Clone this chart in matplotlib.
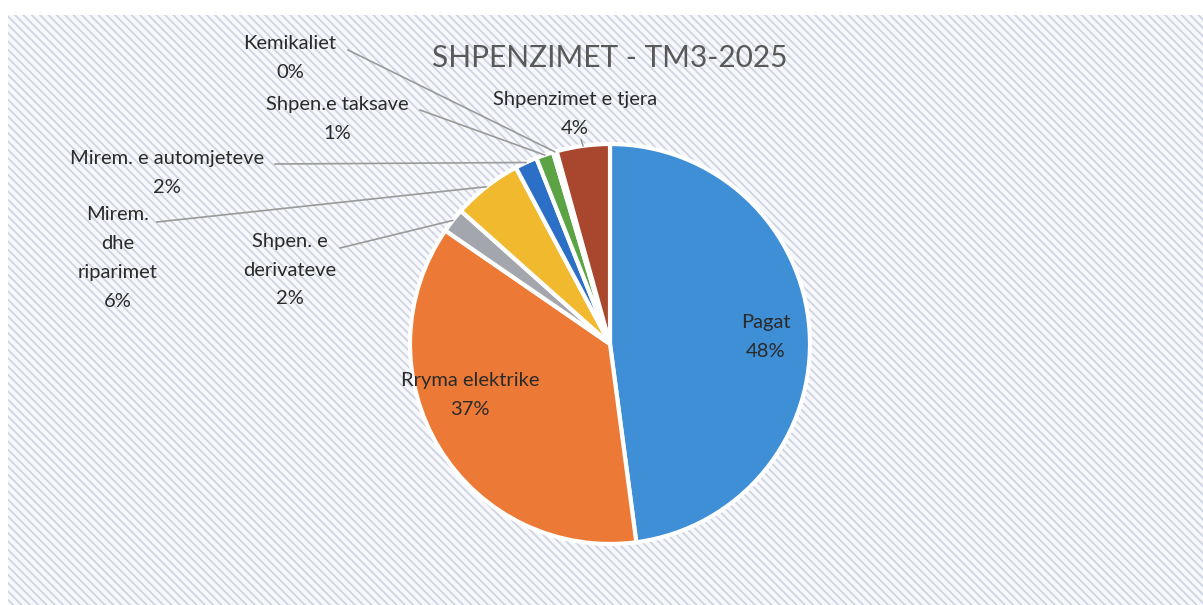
import numpy as np
import matplotlib
matplotlib.use("Agg")
import matplotlib.pyplot as plt
from matplotlib.patches import Rectangle

title = "SHPENZIMET - TM3-2025"
categories = ["Pagat", "Rryma elektrike", "Shpen. e derivateve", "Mirem. dhe riparimet",
              "Mirem. e automjeteve", "Shpen.e taksave", "Kemikaliet", "Shpenzimet e tjera"]
values = [47.9, 36.7, 2.0, 5.6, 1.8, 1.4, 0.3, 4.3]
pct_labels = ["48%", "37%", "2%", "6%", "2%", "1%", "0%", "4%"]
label_text = ["Pagat", "Rryma elektrike", "Shpen. e\nderivateve", "Mirem.\ndhe\nriparimet",
              "Mirem. e automjeteve", "Shpen.e taksave", "Kemikaliet", "Shpenzimet e tjera"]
colors = ["#3f8fd6", "#ec7a36", "#a3a6ad", "#f1b92e", "#2b70c6", "#5ba345", "#f4f4f4", "#a9472e"]

W, H = 1203, 605
fig = plt.figure(figsize=(W / 100, H / 100), dpi=100)
ax = fig.add_axes([0, 0, 1, 1])
ax.set_xlim(0, W)
ax.set_ylim(0, H)
ax.set_aspect("equal")
ax.axis("off")

plt.rcParams["hatch.linewidth"] = 1.3
bg = Rectangle((8, 0), W - 8, H - 15, facecolor="#f7f8fc", edgecolor="#d0d4e2",
               linewidth=0, hatch="\\\\\\\\", zorder=0)
ax.add_patch(bg)

cx, cy, R = 610, H - 344, 200
wedges, _ = ax.pie(values, colors=colors, startangle=90, counterclock=False,
                   center=(cx, cy), radius=R, frame=True,
                   wedgeprops=dict(edgecolor="white", linewidth=3))
ax.set_xlim(0, W)
ax.set_ylim(0, H)
ax.axis("off")

font = "Lato"
txtc = "#2a2a2a"
fs = 14.5
ls = 1.85
ax.text(610, H - 58, title, ha="center", va="center", fontsize=21.5, color="#595959", family=font)

# inside labels
ax.text(766, H - 337, "Pagat\n48%", ha="center", va="center", fontsize=fs,
        color=txtc, family=font, linespacing=ls)
ax.text(470, H - 395, "Rryma elektrike\n37%", ha="center", va="center", fontsize=fs,
        color=txtc, family=font, linespacing=ls)

# outside labels: (index, text center, line start)
outside = [
    (6, (290, 58), (348, 50)),
    (5, (337, 119), (420, 110)),
    (4, (167, 173), (275, 164)),
    (3, (118, 258), (157, 222)),
    (2, (290, 270), (340, 248)),
    (7, (575, 114), None),
]
cum = np.cumsum([0] + values)
total = sum(values)
for idx, (tx, ty), start in outside:
    lab = label_text[idx] + "\n" + pct_labels[idx]
    ax.text(tx, H - ty, lab, ha="center", va="center", fontsize=fs, color=txtc,
            family=font, linespacing=ls)
    mid = (cum[idx] + cum[idx + 1]) / 2 / total * 2 * np.pi
    ex = cx + R * np.sin(mid)
    ey = cy + R * np.cos(mid)
    if start is None:
        ax.plot([ex - 2, ex], [ey + 6, ey], color="#8c8c8c", lw=1, zorder=5)
    else:
        ax.plot([start[0], ex], [H - start[1], ey], color="#9a9a9a", lw=1.2, zorder=5)

fig.savefig("out.png", dpi=100, facecolor="white")
